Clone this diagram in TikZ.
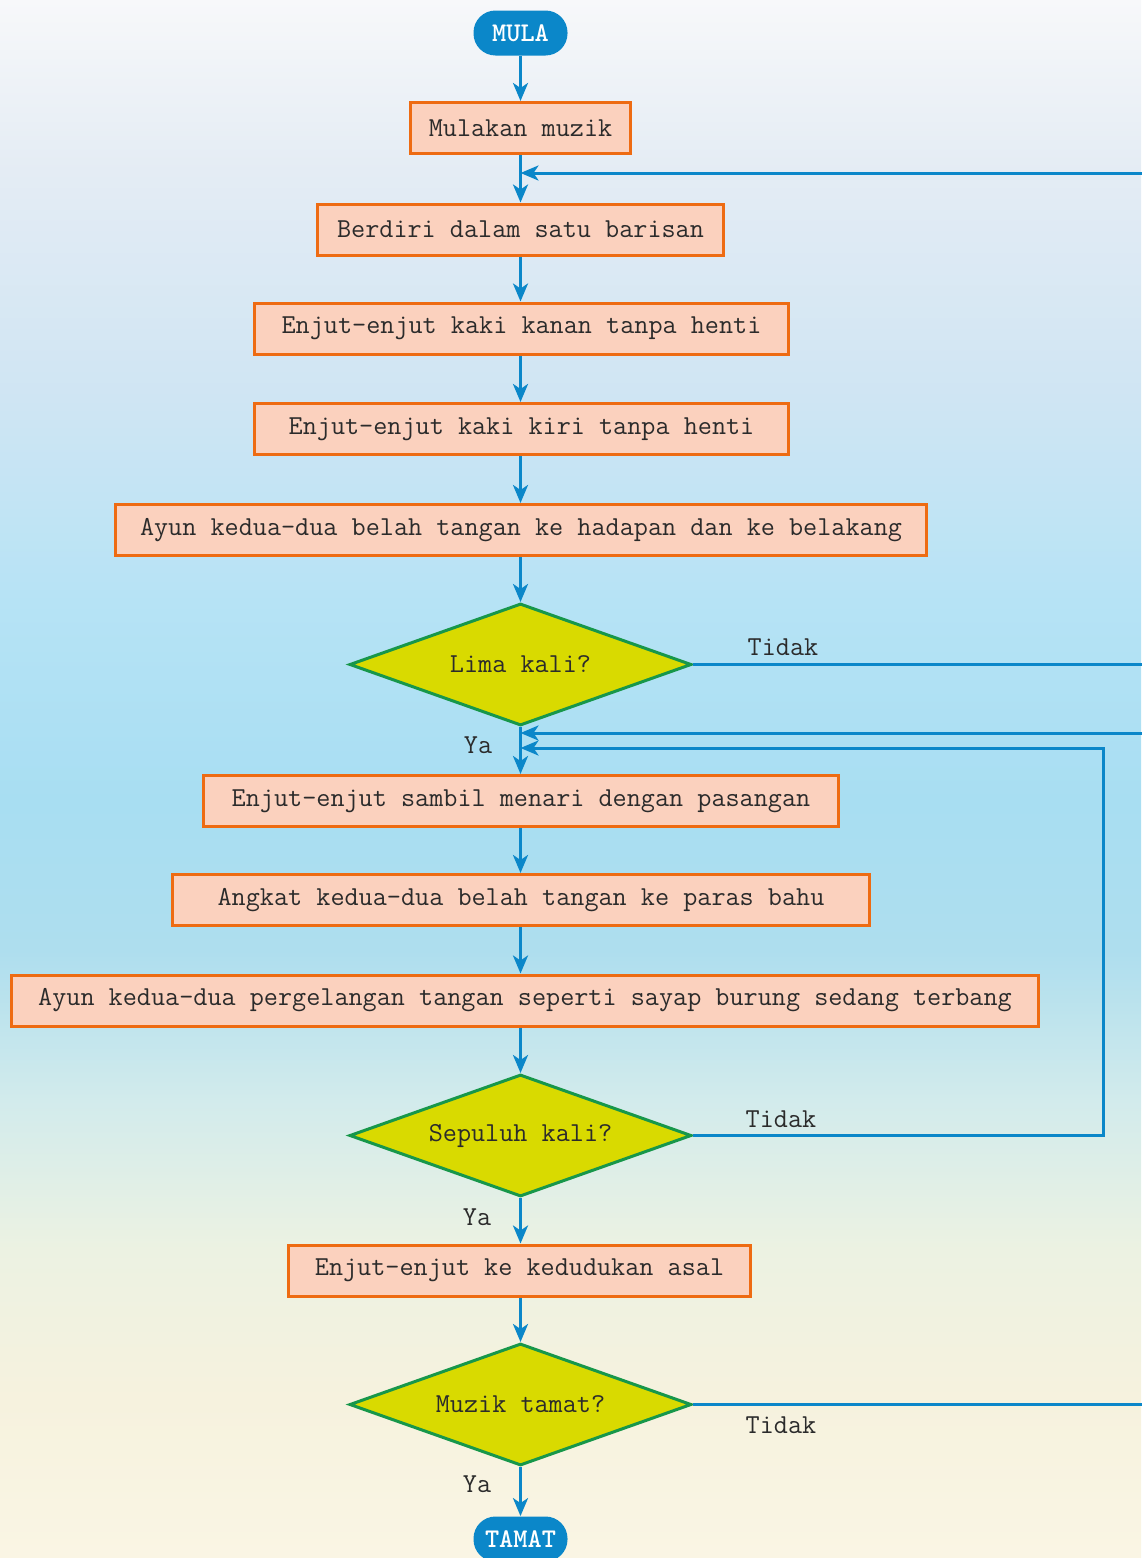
\documentclass[tikz,border=0pt]{standalone}
\usepackage{fontspec}
\usetikzlibrary{shapes.geometric,arrows.meta}

\definecolor{flowblue}{HTML}{0B87C9}
\definecolor{boxfill}{HTML}{FBD1BE}
\definecolor{boxline}{HTML}{EE6B12}
\definecolor{decfill}{HTML}{D9DA00}
\definecolor{decline}{HTML}{17974A}
\definecolor{ink}{HTML}{2B2B2B}

\definecolor{bgA}{HTML}{F7F8FA}
\definecolor{bgB}{HTML}{E4ECF4}
\definecolor{bgC}{HTML}{CFE5F3}
\definecolor{bgD}{HTML}{B6E3F5}
\definecolor{bgE}{HTML}{A8DEF2}
\definecolor{bgF}{HTML}{AEDEEE}
\definecolor{bgG}{HTML}{D2EBEC}
\definecolor{bgH}{HTML}{ECF2E2}
\definecolor{bgI}{HTML}{F6F2DE}
\definecolor{bgJ}{HTML}{FAF5E4}

% soft sky-to-sand backdrop
\pgfdeclareverticalshading{backdrop}{100bp}{
  color(0bp)=(bgJ); color(25bp)=(bgJ); color(30.1bp)=(bgI);
  color(34.9bp)=(bgH); color(39.7bp)=(bgG); color(44.5bp)=(bgF);
  color(49.3bp)=(bgE); color(55.7bp)=(bgD); color(62.2bp)=(bgC);
  color(69.5bp)=(bgB); color(75bp)=(bgA); color(100bp)=(bgA)}

\tikzset{
  txt/.style={font=\ttfamily\fontsize{13.7}{16}\selectfont, text=ink},
  stepbox/.style={txt, rectangle, draw=boxline, fill=boxfill, line width=1.5pt,
    minimum height=25.5pt, inner sep=0pt},
  decision/.style={txt, diamond, aspect=2.8, draw=decline, fill=decfill,
    line width=1.5pt, minimum width=171pt, minimum height=61pt, inner sep=0pt},
  terminal/.style={rectangle, rounded corners=11pt, fill=flowblue, text=white,
    font=\ttfamily\bfseries\fontsize{13.5}{15}\selectfont, minimum width=47pt,
    minimum height=22.5pt, inner sep=0pt},
  flow/.style={draw=flowblue, line width=1.5pt,
    -{Stealth[length=9pt,width=7.5pt,inset=2.5pt]}},
  flowline/.style={draw=flowblue, line width=1.5pt},
  lbl/.style={txt, inner sep=0pt}
}

\begin{document}
\begin{tikzpicture}[x=0.5pt,y=-0.5pt]
  \useasboundingbox (0,0) rectangle (1141,1558);
  \shade[shading=backdrop] (0,0) rectangle (1141,1558);

  % nodes
  \node[terminal] (mula) at (520.5,33) {MULA};
  \node[stepbox, minimum width=110pt] (b1) at (520.5,128) {Mulakan muzik};
  \node[stepbox, minimum width=203pt] (b2) at (520.5,229.5) {Berdiri dalam satu barisan};
  \node[stepbox, minimum width=267pt] (b3) at (521.5,328.5) {Enjut-enjut kaki kanan tanpa henti};
  \node[stepbox, minimum width=267pt] (b4) at (521.5,429) {Enjut-enjut kaki kiri tanpa henti};
  \node[stepbox, minimum width=405.5pt] (b5) at (521,530) {Ayun kedua-dua belah tangan ke hadapan dan ke belakang};
  \node[decision] (d1) at (520.5,664.5) {Lima kali?};
  \node[stepbox, minimum width=317.5pt] (b6) at (521,801) {Enjut-enjut sambil menari dengan pasangan};
  \node[stepbox, minimum width=348.5pt] (b7) at (521,900) {Angkat kedua-dua belah tangan ke paras bahu};
  \node[stepbox, minimum width=513.5pt] (b8) at (525,1000.5) {Ayun kedua-dua pergelangan tangan seperti sayap burung sedang terbang};
  \node[decision] (d2) at (520.5,1135.5) {Sepuluh kali?};
  \node[stepbox, minimum width=231pt] (b9) at (519.5,1270.5) {Enjut-enjut ke kedudukan asal};
  \node[decision] (d3) at (520.5,1404.5) {Muzik tamat?};
  \node[terminal] (tamat) at (520.5,1539) {TAMAT};

  % free ends at the right margin and junctions on the main line
  \coordinate (r1) at (1150,173);
  \coordinate (j1) at (b1.south |- r1);
  \coordinate (r2) at (1150,664.5);
  \coordinate (r3) at (1150,733);
  \coordinate (j3) at (d1.south |- r3);
  \coordinate (c1) at (1103,1135.5);
  \coordinate (c2) at (1103,748);
  \coordinate (j4) at (d1.south |- c2);
  \coordinate (r4) at (1150,1404.5);

  % main flow, kept on one vertical line
  \draw[flow] (mula.south) -- (mula.south |- b1.north);
  \draw[flow] (b1.south) -- (b1.south |- b2.north);
  \draw[flow] (b2.south) -- (b2.south |- b3.north);
  \draw[flow] (b2.south |- b3.south) -- (b2.south |- b4.north);
  \draw[flow] (b2.south |- b4.south) -- (b2.south |- b5.north);
  \draw[flow] (b2.south |- b5.south) -- (d1.north);
  \draw[flow] (d1.south) -- (d1.south |- b6.north);
  \draw[flow] (d1.south |- b6.south) -- (d1.south |- b7.north);
  \draw[flow] (d1.south |- b7.south) -- (d1.south |- b8.north);
  \draw[flow] (d1.south |- b8.south) -- (d2.north);
  \draw[flow] (d2.south) -- (d2.south |- b9.north);
  \draw[flow] (d2.south |- b9.south) -- (d3.north);
  \draw[flow] (d3.south) -- (tamat.north);

  % return paths
  \draw[flow] (r1) -- (j1);
  \draw[flowline] (d1.east) -- (r2);
  \draw[flow] (r3) -- (j3);
  \draw[flow] (d2.east) -- (c1) -- (c2) -- (j4);
  \draw[flowline] (d3.east) -- (r4);

  % branch labels
  \node[lbl] (t1) at (783,647) {Tidak};
  \node[lbl] (y1) at (478,745) {Ya};
  \node[lbl] (t2) at (781,1119) {Tidak};
  \node[lbl] (y2) at (477,1217) {Ya};
  \node[lbl] (t3) at (781,1425) {Tidak};
  \node[lbl] (y3) at (477,1484) {Ya};
\end{tikzpicture}
\end{document}
